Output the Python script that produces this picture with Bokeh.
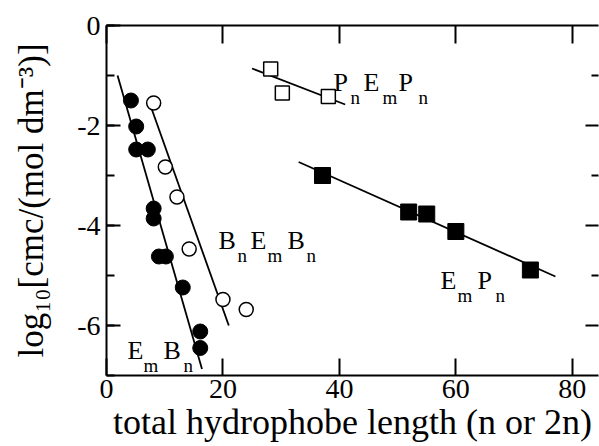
import math
from bokeh.plotting import figure
from bokeh.models import Label, LinearAxis, FixedTicker, Range1d
from bokeh.embed import file_html
from bokeh.resources import INLINE

# ---- data ----
embn_x = [4.2, 5.1, 5.1, 7.1, 8.1, 8.1, 9.0, 10.2, 13.1, 16.1, 16.1]
embn_y = [-1.50, -2.02, -2.48, -2.48, -3.66, -3.86, -4.62, -4.62, -5.24, -6.12, -6.45]
bnembn_x = [8.1, 10.1, 12.1, 14.2, 20.0, 24.0]
bnembn_y = [-1.55, -2.83, -3.43, -4.47, -5.48, -5.68]
pnempn_x = [28.2, 30.2, 38.1]
pnempn_y = [-0.87, -1.35, -1.42]
empn_x = [37.1, 51.9, 55.0, 60.0, 72.8]
empn_y = [-3.00, -3.73, -3.77, -4.12, -4.89]

embn_fit_x = [1.9, 16.4]
embn_fit_y = [-1.0, -6.87]
bnembn_fit_x = [7.55, 21.0]
bnembn_fit_y = [-1.6, -6.0]
pnempn_fit_x = [25.0, 41.0]
pnempn_fit_y = [-0.86, -1.58]
empn_fit_x = [33.0, 77.1]
empn_fit_y = [-2.73, -5.02]

x_ticks = [0, 20, 40, 60, 80]
y_ticks = [-6, -4, -2, 0]
y_minor = [-7, -6, -5, -4, -3, -2, -1, 0]
y_tick_text = {-6: "-6", -4: "-4", -2: "-2", 0: "0"}

x_title = "total hydrophobe length (n or 2n)"
y_title = "log\u2081\u2080[cmc/(mol dm\u207b\u00b3)]"

X0, X1, Y0, Y1 = 0.0, 84.5, -7.0, 0.0
FL, FT, FW, FH = 106, 25, 492, 350
SERIF = "Liberation Serif"


def px2x(px):
    return X0 + (px - FL) * (X1 - X0) / FW


def py2y(py):
    return Y1 - (py - FT) * (Y1 - Y0) / FH


p = figure(width=599, height=446, output_backend="svg", toolbar_location=None,
           x_range=Range1d(X0, X1), y_range=Range1d(Y0, Y1),
           x_axis_location=None, y_axis_location=None,
           min_border_left=FL, min_border_right=1, min_border_top=FT,
           min_border_bottom=446 - FT - FH)
p.outline_line_color = None
p.grid.visible = False
p.background_fill_color = "white"
p.border_fill_color = "white"


def mk_axis(ticks, minor, tin, min_in, fs, standoff, line=True, show_labels=True):
    ax = LinearAxis(ticker=FixedTicker(ticks=ticks, minor_ticks=minor),
                    major_tick_in=tin, major_tick_out=0,
                    minor_tick_in=min_in, minor_tick_out=0,
                    major_label_text_font=SERIF,
                    major_label_text_font_size=fs,
                    major_label_text_color="black" if show_labels else None,
                    major_label_standoff=standoff,
                    axis_line_width=2, major_tick_line_width=2,
                    minor_tick_line_width=2,
                    axis_label_text_font=SERIF,
                    axis_label_text_font_style="normal",
                    axis_label_text_color="black")
    if not line:
        ax.axis_line_color = None
    return ax


xb = mk_axis(x_ticks, [], 17, 0, "28px", 4)
xb.axis_label = x_title
xb.axis_label_text_font_size = "36px"
xb.axis_label_standoff = 1
p.add_layout(xb, "below")

p.add_layout(mk_axis(x_ticks, [], 18, 0, "1px", 0, show_labels=False), "above")

yl = mk_axis(y_ticks, y_minor, 14, 8, "28px", 6)
yl.major_label_overrides = y_tick_text
yl.axis_label = y_title
yl.axis_label_text_font_size = "35px"
yl.axis_label_standoff = 23
p.add_layout(yl, "left")

p.add_layout(mk_axis([-6, -4, -2], [-5, -3, -1], 13, 7, "1px", 0,
                     line=False, show_labels=False), "right")

# fitted lines
for fx, fy in [(embn_fit_x, embn_fit_y), (bnembn_fit_x, bnembn_fit_y),
               (pnempn_fit_x, pnempn_fit_y), (empn_fit_x, empn_fit_y)]:
    p.line(fx, fy, line_color="black", line_width=1.8)

# markers
p.scatter(embn_x, embn_y, marker="circle", size=15, fill_color="black", line_color="black")
p.scatter(bnembn_x, bnembn_y, marker="circle", size=14, fill_color="white",
          line_color="black", line_width=1.5)
p.scatter(pnempn_x, pnempn_y, marker="square", size=14, fill_color="white",
          line_color="black", line_width=1.5)
p.scatter(empn_x, empn_y, marker="square", size=16, fill_color="black", line_color="black")


def put(text, px, py, size, align="left"):
    p.add_layout(Label(x=px2x(px), y=py2y(py), text=text, text_font=SERIF,
                       text_font_size=f"{size}px", text_color="black",
                       text_align=align, text_baseline="alphabetic"))


# in-plot series labels: (text, x start px, is subscript)
MAIN, SUB, SUBDROP = 26, 19, 15


def series_label(pieces, base_py):
    for txt, px, sub in pieces:
        if sub:
            put(txt, px, base_py + SUBDROP, SUB)
        else:
            put(txt, px, base_py, MAIN)


series_label([("P", 333, False), ("n", 350, True), ("E", 363, False),
              ("m", 382, True), ("P", 398, False), ("n", 418, True)], 82)
series_label([("B", 218, False), ("n", 237, True), ("E", 250, False),
              ("m", 267, True), ("B", 287, False), ("n", 306, True)], 240)
series_label([("E", 440, False), ("m", 457, True), ("P", 477, False),
              ("n", 495, True)], 280)
series_label([("E", 127, False), ("m", 143, True), ("B", 163, False),
              ("n", 183, True)], 350)

open("out.html", "w").write(file_html(p, INLINE))
